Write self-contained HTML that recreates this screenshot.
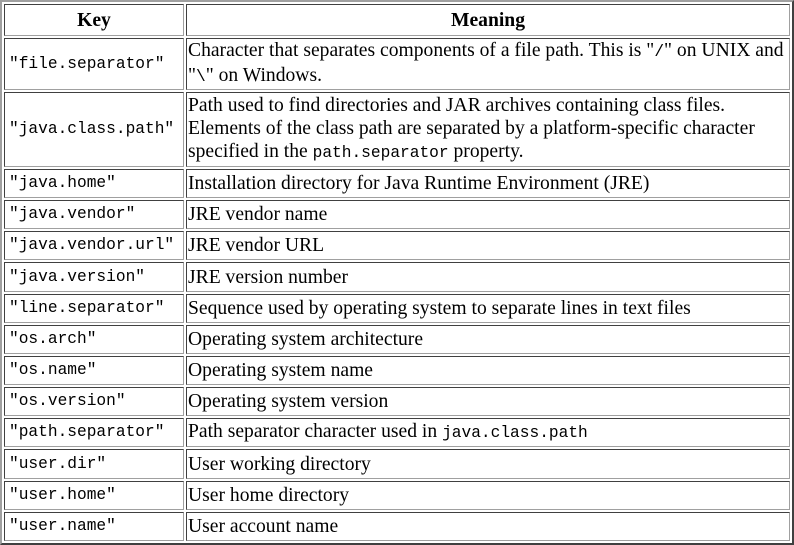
<!DOCTYPE html>
<html><head><style>
html,body{margin:0;padding:0;background:#fff;}
table{border-collapse:separate;border-spacing:2px;border:2px solid;border-color:#a0a0a0 #404040 #404040 #a0a0a0;width:794px;height:545px;box-sizing:border-box;table-layout:fixed;font-family:"Liberation Serif",serif;font-size:19.6px;color:#000;}
td,th{border:1px solid;border-color:#404040 #a0a0a0 #a0a0a0 #404040;padding:0 1px;box-sizing:border-box;line-height:23px;white-space:nowrap;}
th{font-weight:bold;text-align:center;}
td:first-child{font-family:"Liberation Mono",monospace;font-size:16.2px;padding-left:4px;}
code{font-family:"Liberation Mono",monospace;font-size:16.2px;}
tr{height:29px;}
</style></head><body>
<table>
<colgroup><col style="width:180px"><col style="width:604px"></colgroup>
<tr style="height:32px"><th>Key</th><th>Meaning</th></tr>
<tr style="height:52px"><td>"file.separator"</td><td>Character that separates components of a file path. This is "<code>/</code>" on UNIX and<br>"<code>\</code>" on Windows.</td></tr>
<tr style="height:74px"><td>"java.class.path"</td><td>Path used to find directories and JAR archives containing class files.<br>Elements of the class path are separated by a platform-specific character<br>specified in the <code>path.separator</code> property.</td></tr>
<tr><td>"java.home"</td><td>Installation directory for Java Runtime Environment (JRE)</td></tr>
<tr><td>"java.vendor"</td><td>JRE vendor name</td></tr>
<tr><td>"java.vendor.url"</td><td>JRE vendor URL</td></tr>
<tr><td>"java.version"</td><td>JRE version number</td></tr>
<tr><td>"line.separator"</td><td>Sequence used by operating system to separate lines in text files</td></tr>
<tr><td>"os.arch"</td><td>Operating system architecture</td></tr>
<tr><td>"os.name"</td><td>Operating system name</td></tr>
<tr><td>"os.version"</td><td>Operating system version</td></tr>
<tr><td>"path.separator"</td><td>Path separator character used in <code>java.class.path</code></td></tr>
<tr><td>"user.dir"</td><td>User working directory</td></tr>
<tr><td>"user.home"</td><td>User home directory</td></tr>
<tr><td>"user.name"</td><td>User account name</td></tr>
</table>
</body></html>
